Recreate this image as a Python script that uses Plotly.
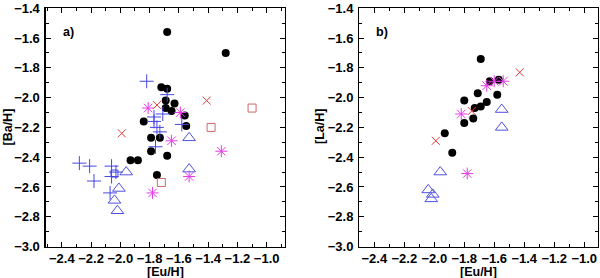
import plotly.graph_objects as go

# ---------------- Panel a: [Ba/H] vs [Eu/H] ----------------
a_circ_x = [-1.68, -1.28, -1.72, -1.68, -1.69, -1.63, -1.69, -1.65, -1.56, -1.84, -1.55,
            -1.79, -1.73, -1.79, -1.68, -1.93, -1.88, -1.75]
a_circ_y = [-1.56, -1.70, -1.93, -1.94, -2.02, -2.04, -2.07, -2.09, -2.12, -2.16, -2.19,
            -2.27, -2.27, -2.36, -2.39, -2.42, -2.42, -2.52]

a_plus_x = [-1.82, -1.68, -1.71, -1.77, -1.77, -1.75, -1.73, -1.76, -1.58,
            -2.28, -2.21, -2.18, -2.06, -2.06, -2.03, -2.07]
a_plus_y = [-1.89, -1.98, -2.11, -2.13, -2.16, -2.20, -2.23, -2.33, -2.18,
            -2.44, -2.46, -2.56, -2.46, -2.53, -2.50, -2.64]

a_bsq_x = [-2.04]
a_bsq_y = [-2.51]

a_tri_x = [-1.53, -1.53, -1.96, -2.01, -2.04, -2.02]
a_tri_y = [-2.27, -2.48, -2.50, -2.61, -2.69, -2.76]

a_ast_x = [-1.81, -1.59, -1.65, -1.31, -1.53, -1.78]
a_ast_y = [-2.07, -2.10, -2.29, -2.36, -2.53, -2.64]

a_x_x = [-1.75, -1.41, -1.99]
a_x_y = [-2.05, -2.02, -2.24]

a_sq_x = [-1.10, -1.38, -1.72]
a_sq_y = [-2.07, -2.20, -2.57]

# ---------------- Panel b: [La/H] vs [Eu/H] ----------------
b_circ_x = [-1.69, -1.63, -1.57, -1.71, -1.58, -1.80, -1.65, -1.69, -1.73, -1.74, -1.80,
            -1.93, -1.88]
b_circ_y = [-1.74, -1.89, -1.88, -1.97, -1.98, -2.02, -2.03, -2.06, -2.07, -2.14, -2.17,
            -2.24, -2.37]

b_ast_x = [-1.82, -1.65, -1.60, -1.54, -1.78]
b_ast_y = [-2.11, -1.92, -1.89, -1.89, -2.51]

b_x_x = [-1.43, -1.75, -1.99]
b_x_y = [-1.83, -2.09, -2.29]

b_tri_x = [-1.55, -1.55, -1.96, -2.04, -2.01, -2.02]
b_tri_y = [-2.08, -2.20, -2.50, -2.62, -2.65, -2.68]

x_ticks = [-2.4, -2.2, -2.0, -1.8, -1.6, -1.4, -1.2, -1.0]
y_ticks = [-3.0, -2.8, -2.6, -2.4, -2.2, -2.0, -1.8, -1.6, -1.4]

BLUE = "rgb(70,70,225)"
TRI = "rgb(80,80,225)"
MAG = "rgb(230,60,230)"
RED = "rgb(225,60,60)"
SQ = "rgb(205,105,105)"

fig = go.Figure()


def add(xs, ys, sym, color, size, lw, xa, ya, filled=False):
    if filled:
        m = dict(symbol=sym, color=color, size=size, line=dict(width=0))
    else:
        m = dict(symbol=sym, color=color, size=size, line=dict(color=color, width=lw))
    fig.add_trace(go.Scatter(x=xs, y=ys, mode="markers", marker=m,
                             xaxis=xa, yaxis=ya, showlegend=False, hoverinfo="skip"))


# panel a
add(a_circ_x, a_circ_y, "circle", "black", 8, 0, "x", "y", filled=True)
add(a_plus_x, a_plus_y, "cross-thin-open", BLUE, 10, 1, "x", "y")
add(a_bsq_x, a_bsq_y, "square-open", BLUE, 7, 1, "x", "y")
add(a_tri_x, a_tri_y, "triangle-up-open", TRI, 11, 1, "x", "y")
add(a_ast_x, a_ast_y, "asterisk-open", MAG, 10, 1, "x", "y")
add(a_x_x, a_x_y, "x-thin-open", RED, 8, 1, "x", "y")
add(a_sq_x, a_sq_y, "square-open", SQ, 8, 1, "x", "y")

# panel b
add(b_circ_x, b_circ_y, "circle", "black", 8, 0, "x2", "y2", filled=True)
add(b_tri_x, b_tri_y, "triangle-up-open", TRI, 11, 1, "x2", "y2")
add(b_ast_x, b_ast_y, "asterisk-open", MAG, 10, 1, "x2", "y2")
add(b_x_x, b_x_y, "x-thin-open", RED, 8, 1, "x2", "y2")

W, H = 600, 278
ytop, ybot = 8.3, 246.5
ydom = [1 - ybot / H, 1 - ytop / H]

FONT = dict(family="Liberation Sans, Arial, sans-serif", size=13, color="black", weight=700)
TFONT = dict(family="Liberation Sans, Arial, sans-serif", size=12.5, color="black", weight=700)

common_x = dict(showline=True, linecolor="black", linewidth=1.3, mirror="allticks",
                ticks="inside", ticklen=5, tickwidth=1, tickcolor="black",
                tickvals=x_ticks, tickformat=".1f", showgrid=False, zeroline=False,
                tickfont=FONT, ticklabelstandoff=0,
                minor=dict(ticks="inside", ticklen=3, dtick=0.1, tick0=0, tickcolor="black",
                           showgrid=False))
common_y = dict(showline=True, linecolor="black", linewidth=1.3, mirror="allticks",
                ticks="inside", ticklen=5, tickwidth=1, tickcolor="black",
                tickvals=y_ticks, tickformat=".1f", showgrid=False, zeroline=False,
                tickfont=FONT, range=[-3.0, -1.4], ticklabelstandoff=2,
                minor=dict(ticks="inside", ticklen=3, dtick=0.1, tick0=0, tickcolor="black",
                           showgrid=False))

fig.update_layout(
    width=W, height=H,
    paper_bgcolor="white", plot_bgcolor="white",
    margin=dict(l=0, r=0, t=0, b=0, autoexpand=False),
    xaxis=dict(domain=[45.7 / W, 285 / W], range=[-2.51, -0.875], anchor="y", **common_x),
    yaxis=dict(domain=ydom, anchor="x", **common_y),
    xaxis2=dict(domain=[359.3 / W, 597.7 / W], range=[-2.5, -0.91], anchor="y2", **common_x),
    yaxis2=dict(domain=ydom, anchor="x2", **common_y),
    annotations=[
        dict(text="[Eu/H]", x=(45.7 + 285) / 2 / W, y=1 - 272 / H, xref="paper", yref="paper",
             showarrow=False, font=TFONT, xanchor="center", yanchor="middle"),
        dict(text="[Eu/H]", x=(359.3 + 597.7) / 2 / W, y=1 - 272 / H, xref="paper", yref="paper",
             showarrow=False, font=TFONT, xanchor="center", yanchor="middle"),
        dict(text="[Ba/H]", x=7.5 / W, y=1 - 127 / H, xref="paper", yref="paper",
             showarrow=False, font=TFONT, textangle=-90, xanchor="center", yanchor="middle"),
        dict(text="[La/H]", x=320 / W, y=1 - 127 / H, xref="paper", yref="paper",
             showarrow=False, font=TFONT, textangle=-90, xanchor="center", yanchor="middle"),
        dict(text="a)", x=60.5 / W, y=1 - 31.7 / H, xref="paper", yref="paper",
             showarrow=False, font=TFONT, xanchor="left", yanchor="middle"),
        dict(text="b)", x=374 / W, y=1 - 31.7 / H, xref="paper", yref="paper",
             showarrow=False, font=TFONT, xanchor="left", yanchor="middle"),
    ],
)

fig.write_html("out.html", config={"displayModeBar": False, "staticPlot": True},
               post_script="document.body.style.margin='0';document.body.style.overflow='hidden';")
